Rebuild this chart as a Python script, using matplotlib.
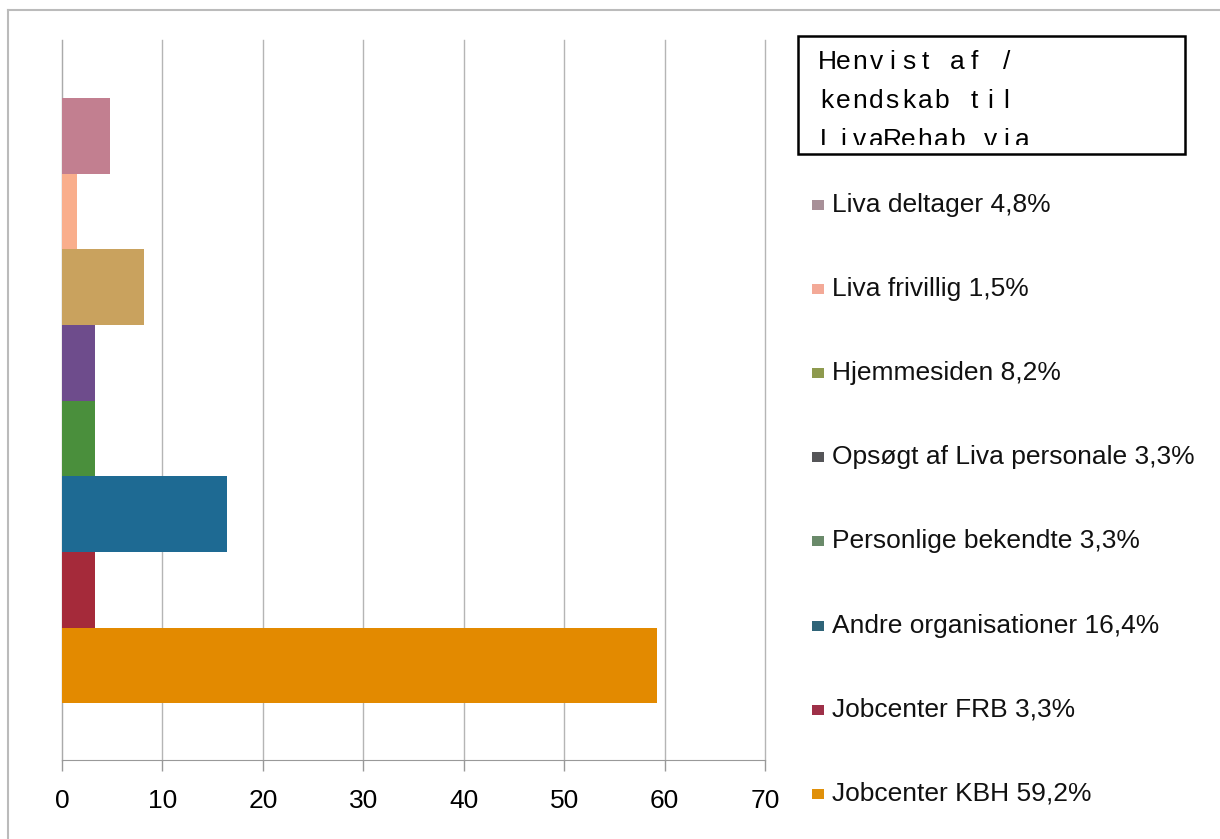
import matplotlib
matplotlib.use("Agg")
import matplotlib.pyplot as plt
from matplotlib import font_manager
from matplotlib.patches import Rectangle
from matplotlib.lines import Line2D

# data, bottom to top
categories = ["Jobcenter KBH", "Jobcenter FRB", "Andre organisationer",
              "Personlige bekendte", "Opsøgt af Liva personale",
              "Hjemmesiden", "Liva frivillig", "Liva deltager"]
values = [59.2, 3.3, 16.4, 3.3, 3.3, 8.2, 1.5, 4.8]
pct_labels = ["59,2%", "3,3%", "16,4%", "3,3%", "3,3%", "8,2%", "1,5%", "4,8%"]
bar_colors = ["#E38A00", "#A52A3A", "#1E6A93", "#4A8F3C",
              "#6E4C8C", "#C9A25E", "#F9AE8C", "#C27F90"]
legend_colors = ["#E0900A", "#9E3048", "#2F6478", "#6A8A6A",
                 "#555558", "#8E9A4E", "#F3A997", "#A89098"]
x_ticks = [0, 10, 20, 30, 40, 50, 60, 70]
title_lines = ["Henvist af /", "kendskab til", "LivaRehab via"]

installed = {f.name for f in font_manager.fontManager.ttflist}
tick_font = "Liberation Sans Narrow" if "Liberation Sans Narrow" in installed else "Liberation Sans"

W, H = 1220, 839
fig = plt.figure(figsize=(W / 100, H / 100), dpi=100)
fig.patch.set_facecolor("white")

# outer frame (top and left edges visible)
fig.add_artist(Line2D([8 / W, 1.0], [1 - 10 / H, 1 - 10 / H], color="#BBBBBB", lw=1.5))
fig.add_artist(Line2D([8 / W, 8 / W], [0, 1 - 10 / H], color="#BBBBBB", lw=1.5))

ax = fig.add_axes([62 / W, 1 - 760 / H, (765 - 62) / W, (760 - 40) / H])
ax.set_facecolor("none")

ypos = list(range(len(categories)))
ax.barh(ypos, values, height=1.0, color=bar_colors, zorder=3)

ax.set_xlim(0, 70)
ax.set_ylim(-1.25, 8.27)
ax.set_xticks(x_ticks)
ax.set_xticklabels([str(t) for t in x_ticks], family=[tick_font, "DejaVu Sans"],
                   fontsize=19)
ax.set_yticks([])
ax.tick_params(axis="x", length=8, width=1, color="#999999", pad=13)
ax.grid(axis="x", color="#B5B5B5", lw=1, zorder=0)
for gl in ax.get_xgridlines():
    gl.set_clip_on(False)
for s in ["top", "right"]:
    ax.spines[s].set_visible(False)
ax.spines["left"].set_color("#AAAAAA")
ax.spines["bottom"].set_color("#999999")

# legend, top to bottom
lx, tx = 812 / W, 832 / W
for i, idx in enumerate(reversed(range(len(categories)))):
    yc = 205 + i * 84.1
    fig.add_artist(Rectangle((lx, 1 - (yc + 5) / H), 12 / W, 10 / H,
                             facecolor=legend_colors[idx], edgecolor="none",
                             transform=fig.transFigure))
    fig.text(tx, 1 - yc / H, f"{categories[idx]} {pct_labels[idx]}",
             family=["Liberation Sans", "DejaVu Sans"], fontsize=19,
             va="center", ha="left", color="#111111")

# title box, text spaced like a typewriter and clipped above the lower edge
box = Rectangle((798 / W, 1 - 154 / H), (1185 - 798) / W, (154 - 36) / H,
                facecolor="white", edgecolor="black", lw=1.8,
                transform=fig.transFigure)
fig.add_artist(box)
clip = Rectangle((798 / W, 1 - 145 / H), (1185 - 798) / W, (145 - 36) / H,
                 transform=fig.transFigure)
pitch = 16.3
for i, line in enumerate(title_lines):
    base = 69 + i * 39
    for j, ch in enumerate(line):
        if ch == " ":
            continue
        t = fig.text((819 + pitch / 2 + j * pitch) / W, 1 - base / H, ch,
                     family=["Liberation Sans", "DejaVu Sans"], fontsize=19,
                     va="baseline", ha="center", color="black")
        t.set_clip_path(clip)

fig.savefig("out.png", dpi=100)
